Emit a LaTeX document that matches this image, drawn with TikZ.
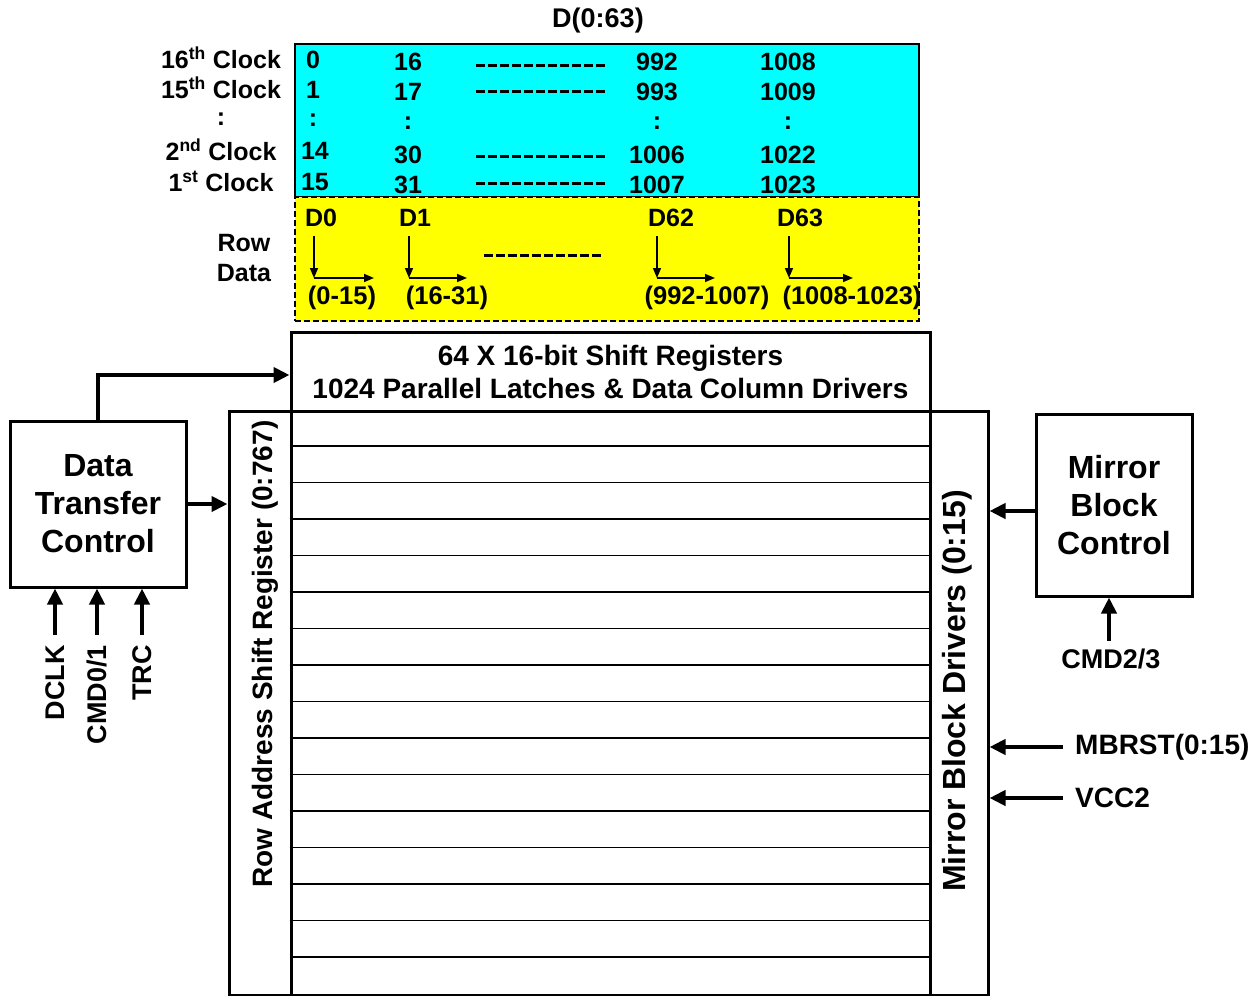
\documentclass[tikz,border=0pt]{standalone}
\usepackage{fontspec}
\setmainfont{Liberation Sans}
\usetikzlibrary{arrows.meta,calc}
\definecolor{cyanfill}{RGB}{0,255,255}
\definecolor{yellowfill}{RGB}{255,255,0}
\begin{document}
\begin{tikzpicture}[x=1pt,y=-1pt,
  every node/.style={font=\bfseries\fontsize{25}{27}\selectfont, inner sep=0pt},
  box/.style={draw, line width=3pt, align=center},
  big/.style={font=\bfseries\fontsize{32}{38}\selectfont},
  sig/.style={font=\bfseries\fontsize{27}{29}\selectfont},
  bigarrow/.style={line width=4pt, -{Triangle[length=16pt,width=15pt]}},
  thinarrow/.style={line width=1.6pt, -{Triangle[length=10pt,width=8pt]}},
  dashline/.style={line width=3pt, dash pattern=on 8.5pt off 3.5pt},
  rowline/.style={line width=1.6pt}]
\useasboundingbox (0,0) rectangle (1259,996);
% title
\node[font=\bfseries\fontsize{27}{29}\selectfont] (title) at (598,21) {D(0:63)};
% cyan block
\node[draw, line width=2pt, fill=cyanfill, minimum width=624, minimum height=153] (cy) at (607,120.5) {};
% yellow block
\node[draw, line width=2.8pt, dash pattern=on 6pt off 3pt, fill=yellowfill, minimum width=624, minimum height=124] (ye) at (607,259) {};
% clock labels
\node (c16) at (221,58) {16\textsuperscript{th} Clock};
\node (c15) at (221,88) {15\textsuperscript{th} Clock};
\node (cdots) at (221,119) {:};
\node (c2) at (221,150) {2\textsuperscript{nd} Clock};
\node (c1) at (221,181) {1\textsuperscript{st} Clock};
% numbers
\node (n00) at (313,60) {0};
\node (n01) at (313,90) {1};
\node (n0d) at (313,120) {:};
\node (n014) at (315,151) {14};
\node (n015) at (315,182) {15};
\node (n10) at (408,62) {16};
\node (n11) at (408,92) {17};
\node (n1d) at (408,123) {:};
\node (n114) at (408,155) {30};
\node (n115) at (408,185) {31};
\node (n20) at (657,62) {992};
\node (n21) at (657,92) {993};
\node (n2d) at (657,123) {:};
\node (n214) at (657,155) {1006};
\node (n215) at (657,185) {1007};
\node (n30) at (788,62) {1008};
\node (n31) at (788,92) {1009};
\node (n3d) at (788,123) {:};
\node (n314) at (788,155) {1022};
\node (n315) at (788,185) {1023};
\draw[dashline] (476,65) -- (607,65);
\draw[dashline] (476,91) -- (607,91);
\draw[dashline] (476,156) -- (607,156);
\draw[dashline] (476,183) -- (607,183);
% row data
\node (row) at (244,243) {Row};
\node (data) at (244,273) {Data};
\node (d0) at (321,218) {D0};
\node (d1) at (415,218) {D1};
\node (d62) at (671,218) {D62};
\node (d63) at (800,218) {D63};
\draw[dashline] (484,255) -- (603,255);
\foreach \nm/\x/\w in {a/314/60, b/409/58, c/657/58, d/789/64}{
  \coordinate (\nm t) at (\x,236);
  \coordinate (\nm c) at (\x,278);
  \coordinate (\nm r) at (\x+\w,278);
  \draw[thinarrow] (\nm t) -- (\nm c);
  \draw[thinarrow] (\nm c) -- (\nm r);
}
\node[font=\bfseries\fontsize{25.5}{27}\selectfont] (r0) at (342,298) {(0-15)};
\node[font=\bfseries\fontsize{25.5}{27}\selectfont] (r1) at (447,298) {(16-31)};
\node[font=\bfseries\fontsize{25.5}{27}\selectfont] (r62) at (707,298) {(992-1007)};
\node[font=\bfseries\fontsize{25.5}{27}\selectfont] (r63) at (852,298) {(1008-1023)};
% shift register box
\node[box, minimum width=639, minimum height=79, font=\bfseries\fontsize{28}{33}\selectfont] (sr) at (610.5,371.5) {64 X 16-bit Shift Registers\\1024 Parallel Latches \& Data Column Drivers};
% array
\node[box, minimum width=639, minimum height=584] (arr) at (610.5,703) {};
\foreach \i in {1,...,15}{
  \draw[rowline] ($(arr.north west)+(0,36.5*\i)$) -- ($(arr.north east)+(0,36.5*\i)$);
}
\node[box, minimum width=62, minimum height=584] (ra) at (260,703) {};
\node[rotate=90, font=\bfseries\fontsize{28}{30}\selectfont] (ratext) at (265,654) {Row Address Shift Register (0:767)};
\node[box, minimum width=58, minimum height=584] (md) at (959,703) {};
\node[rotate=90, font=\bfseries\fontsize{32}{34}\selectfont] (mdtext) at (957,691) {Mirror Block Drivers (0:15)};
% data transfer control
\node[box, big, minimum width=176, minimum height=166] (dtc) at (98,504) {Data\\Transfer\\Control};
\draw[bigarrow] (dtc.north) |- ([yshift=-3.5pt]sr.west);
\draw[bigarrow] (dtc.east) -- (dtc.east -| ra.west);
\foreach \nm/\x/\t in {dclk/55/{DCLK}, cmd/97/{CMD0/1}, trc/142/{TRC}}{
  \coordinate (\nm) at (\x,635);
  \draw[bigarrow] (\nm) -- (\nm |- dtc.south);
  \node[sig, rotate=90, anchor=east] (\nm lab) at (\x,645) {\t};
}
% mirror block control
\node[box, big, minimum width=156, minimum height=182] (mbc) at (1114,505) {Mirror\\Block\\Control};
\draw[bigarrow] ([yshift=-6pt]mbc.west) -- ([yshift=-6pt]mbc.west -| md.east);
\coordinate (cmd23) at (1109,641);
\draw[bigarrow] (cmd23) -- (cmd23 |- mbc.south);
\node[sig] (cmd23lab) at (1111,659) {CMD2/3};
\coordinate (mbrst) at (1063,747);
\draw[bigarrow] (mbrst) -- (mbrst -| md.east);
\node[sig, anchor=west, font=\bfseries\fontsize{28}{30}\selectfont] (mbrstlab) at (1075,747) {MBRST(0:15)};
\coordinate (vcc) at (1063,798);
\draw[bigarrow] (vcc) -- (vcc -| md.east);
\node[sig, anchor=west, font=\bfseries\fontsize{28}{30}\selectfont] (vcclab) at (1075,798) {VCC2};
\end{tikzpicture}
\end{document}
